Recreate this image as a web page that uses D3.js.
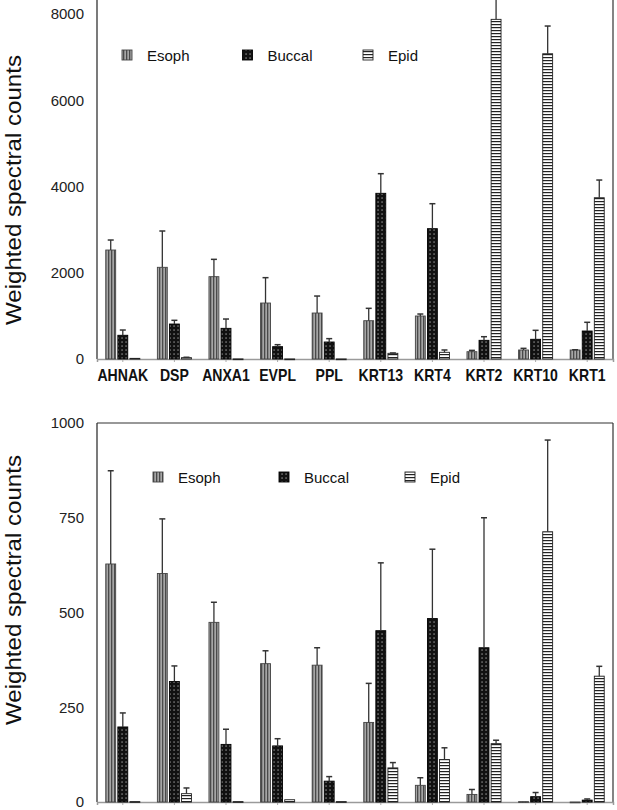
<!DOCTYPE html>
<html>
<head>
<meta charset="utf-8">
<script src="https://cdn.jsdelivr.net/npm/d3@7/dist/d3.min.js"></script>
<style>
  html, body { margin: 0; padding: 0; background: #fff; }
  svg { display: block; font-family: "Liberation Sans", Arial, sans-serif; }
</style>
</head>
<body>
<svg id="chart" width="617" height="810"></svg>
<script>
// ---- data ----
const categories = ["AHNAK","DSP","ANXA1","EVPL","PPL","KRT13","KRT4","KRT2","KRT10","KRT1"];
const seriesNames = ["Esoph","Buccal","Epid"];

// Top panel (all proteins)
const topEsoph   = [2527, 2126, 1909, 1298, 1066, 888, 997, 169, 209, 209];
const topEsophSd = [232, 842, 402, 588, 394, 287, 46, 31, 38, 6];
const topBuccal   = [550, 811, 711, 286, 394, 3842, 3022, 433, 457, 649];
const topBuccalSd = [122, 86, 216, 46, 78, 455, 579, 84, 208, 202];
const topEpid   = [15, 30, 3, 2, 2, 132, 155, 7876, 7079, 3740];
const topEpidSd = [0, 10, 0, 0, 0, 8, 54, 924, 642, 410];
const topTicks = [0, 2000, 4000, 6000, 8000];

// Bottom panel
const botEsoph   = [628, 603, 474, 365, 361, 210, 44, 20, 1, 0];
const botEsophSd = [246, 144, 53, 34, 46, 103, 20, 13, 0, 0];
const botBuccal   = [198, 318, 152, 148, 55, 452, 484, 407, 14, 5];
const botBuccalSd = [37, 41, 40, 19, 12, 179, 183, 343, 11, 3];
const botEpid   = [1, 22, 1, 6, 1, 90, 112, 154, 713, 332];
const botEpidSd = [0, 15, 0, 2, 0, 14, 31, 9, 242, 26];
const botTicks = [0, 250, 500, 750, 1000];

const yTitle = "Weighted spectral counts";

// ---- drawing ----
const svg = d3.select("#chart");
const defs = svg.append("defs");

// patterns
const pE = defs.append("pattern").attr("id","pat-esoph").attr("patternUnits","userSpaceOnUse")
  .attr("width",3).attr("height",10);
pE.append("rect").attr("width",3).attr("height",10).attr("fill","#a6a6a6");
pE.append("rect").attr("width",1.3).attr("height",10).attr("fill","#4a4a4a");

const pB = defs.append("pattern").attr("id","pat-buccal").attr("patternUnits","userSpaceOnUse")
  .attr("width",4).attr("height",4);
pB.append("rect").attr("width",4).attr("height",4).attr("fill","#111");
pB.append("rect").attr("x",1.5).attr("y",1.5).attr("width",1.1).attr("height",1.1).attr("fill","#cfcfcf");

const pP = defs.append("pattern").attr("id","pat-epid").attr("patternUnits","userSpaceOnUse")
  .attr("width",10).attr("height",3);
pP.append("rect").attr("width",10).attr("height",3).attr("fill","#fff");
pP.append("rect").attr("width",10).attr("height",1.2).attr("fill","#222");

const fills = { Esoph: "url(#pat-esoph)", Buccal: "url(#pat-buccal)", Epid: "url(#pat-epid)" };
const strokes = { Esoph: "#444", Buccal: "#000", Epid: "#222" };

const left = 97, right = 613;
const x0 = d3.scaleBand().domain(categories).range([left, right]).paddingInner(0.34).paddingOuter(0.17);
const x1 = d3.scaleBand().domain(seriesNames).range([0, x0.bandwidth()]).paddingInner(0.18);

function panel(opts) {
  const g = svg.append("g");
  const y = d3.scaleLinear().domain(opts.domain).range(opts.range);
  const base = y(0);
  const series = [
    { name: "Esoph", v: opts.esoph, sd: opts.esophSd },
    { name: "Buccal", v: opts.buccal, sd: opts.buccalSd },
    { name: "Epid", v: opts.epid, sd: opts.epidSd }
  ];
  const rows = [];
  series.forEach(s => categories.forEach((c, i) => rows.push({ cat: c, name: s.name, v: s.v[i], sd: s.sd[i] })));

  // frame
  const yTopEdge = y(opts.frameMax);
  g.append("line").attr("x1", left).attr("x2", left).attr("y1", yTopEdge).attr("y2", base)
    .attr("stroke", "#222").attr("stroke-width", 1.2);
  g.append("line").attr("x1", right).attr("x2", right).attr("y1", yTopEdge).attr("y2", base)
    .attr("stroke", "#333").attr("stroke-width", 1.2);
  if (opts.topBorder) {
    g.append("line").attr("x1", left).attr("x2", right).attr("y1", yTopEdge).attr("y2", yTopEdge)
      .attr("stroke", "#333").attr("stroke-width", 1.2);
  }

  // x axis
  const xa = d3.axisBottom(x0).tickSize(3).tickPadding(8);
  if (!opts.labels) xa.tickFormat("");
  const xg = g.append("g").attr("transform", `translate(0,${base})`).call(xa);
  xg.select(".domain").attr("stroke", "#9a9a9a").attr("stroke-width", 1.5);
  xg.selectAll(".tick line").attr("stroke", "#aaa");
  xg.selectAll(".tick text").attr("font-size", 16).attr("font-weight", "bold")
    .attr("font-family", "'Liberation Sans', Arial, sans-serif").attr("fill", "#111")
    .attr("transform", "scale(0.88,1)");

  // y axis labels
  const ya = d3.axisLeft(y).tickValues(opts.ticks).tickSize(0).tickPadding(13).tickFormat(d3.format("d"));
  const yg = g.append("g").attr("transform", `translate(${left},0)`).call(ya);
  yg.select(".domain").remove();
  yg.selectAll(".tick text").attr("font-size", 15).attr("fill", "#222")
    .attr("font-family", "'Liberation Sans', Arial, sans-serif");

  // bars
  g.selectAll("rect.bar").data(rows).join("rect").attr("class", "bar")
    .attr("x", d => x0(d.cat) + x1(d.name))
    .attr("width", x1.bandwidth())
    .attr("y", d => y(d.v))
    .attr("height", d => Math.max(0.8, base - y(d.v)))
    .attr("fill", d => fills[d.name])
    .attr("stroke", d => strokes[d.name])
    .attr("stroke-width", 0.9);

  // error bars
  const eb = rows.filter(d => d.sd >= 3);
  const cx = d => x0(d.cat) + x1(d.name) + x1.bandwidth() / 2;
  g.selectAll("line.err").data(eb).join("line").attr("class", "err")
    .attr("x1", cx).attr("x2", cx)
    .attr("y1", d => y(d.v)).attr("y2", d => y(d.v + d.sd))
    .attr("stroke", "#333").attr("stroke-width", 1.3);
  g.selectAll("line.cap").data(eb).join("line").attr("class", "cap")
    .attr("x1", d => cx(d) - 3).attr("x2", d => cx(d) + 3)
    .attr("y1", d => y(d.v + d.sd)).attr("y2", d => y(d.v + d.sd))
    .attr("stroke", "#333").attr("stroke-width", 1.5);

  // legend
  const lg = g.append("g");
  seriesNames.forEach((n, i) => {
    const lx = opts.legX + i * opts.legStep;
    lg.append("rect").attr("x", lx).attr("y", opts.legY - 5).attr("width", 10).attr("height", 10)
      .attr("fill", fills[n]).attr("stroke", strokes[n]).attr("stroke-width", 0.9);
    lg.append("text").attr("x", lx + 25).attr("y", opts.legY + 5.5).attr("font-size", 15)
      .attr("fill", "#111").text(n);
  });

  // y title
  g.append("text")
    .attr("transform", `translate(20.5,${opts.titleY}) rotate(-90)`)
    .attr("text-anchor", "middle").attr("font-size", 22).attr("fill", "#111")
    .attr("textLength", opts.titleLen).attr("lengthAdjust", "spacingAndGlyphs")
    .text(yTitle);
}

panel({
  domain: [0, 8000], range: [359, 14], frameMax: 9000, topBorder: false, labels: true,
  ticks: topTicks,
  esoph: topEsoph, esophSd: topEsophSd, buccal: topBuccal, buccalSd: topBuccalSd, epid: topEpid, epidSd: topEpidSd,
  legX: 122, legStep: 120.5, legY: 55, titleY: 190, titleLen: 270
});

panel({
  domain: [0, 1000], range: [802, 423], frameMax: 1000, topBorder: true, labels: false,
  ticks: botTicks,
  esoph: botEsoph, esophSd: botEsophSd, buccal: botBuccal, buccalSd: botBuccalSd, epid: botEpid, epidSd: botEpidSd,
  legX: 153, legStep: 126, legY: 477, titleY: 590, titleLen: 270
});
</script>
</body>
</html>
